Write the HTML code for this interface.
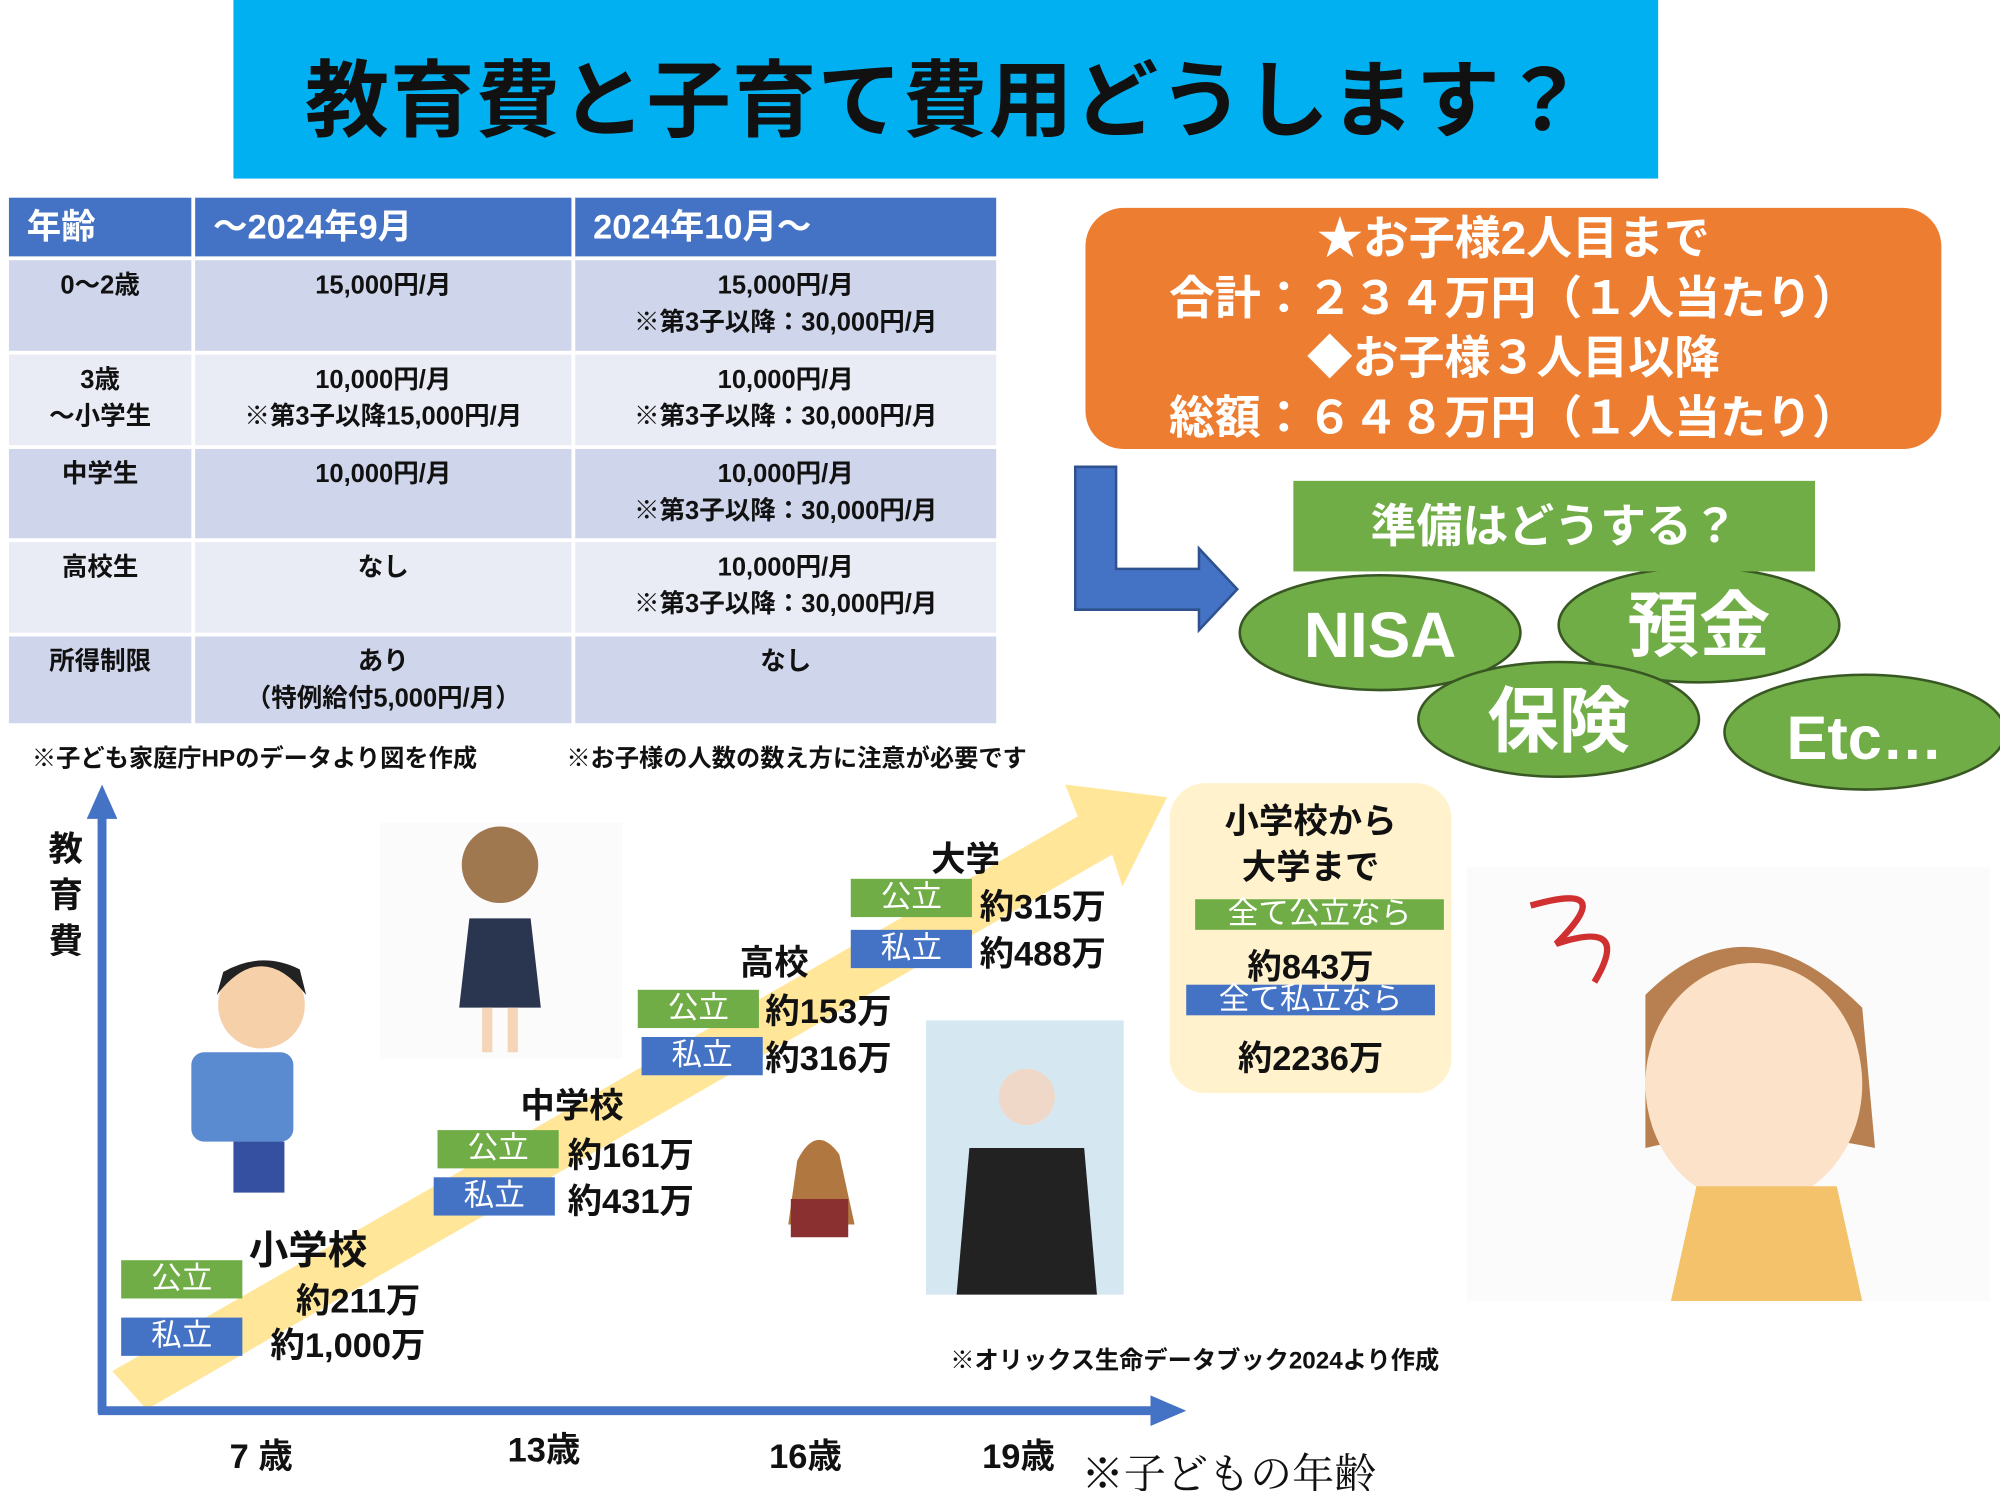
<!DOCTYPE html>
<html><head><meta charset="utf-8"><style>
html,body{margin:0;padding:0;background:#fff;overflow:hidden}
#w{width:1568px;height:1169px;position:relative;transform:scale(1.27551);transform-origin:0 0;font-family:"Liberation Sans","Noto Sans CJK JP",sans-serif;font-weight:bold;color:#111}
.a{position:absolute}
table{border-collapse:collapse;position:absolute;left:4px;top:152px;width:780px;table-layout:fixed}
td{border:3px solid #fff;vertical-align:top;font-size:20px;text-align:center;padding:6px 2px 0;line-height:29px}
tr.h td{background:#4472c4;color:#fff;font-size:27px;text-align:left;padding:6px 14px;height:34px;vertical-align:middle}
tr.d td{background:#cfd5ea}
tr.l td{background:#e9ebf5}
.tag{position:absolute;color:#fff;font-size:24px;text-align:center;line-height:30px;font-weight:normal}
.g{background:#70ad47}.b{background:#4472c4}
.t{position:absolute;font-size:27px;white-space:nowrap}
</style></head><body><div id="w">
<div class="a" style="left:183px;top:0;width:1117px;height:140px;background:#00b0f0"></div>
<div class="a" style="left:183px;top:26px;width:1117px;text-align:center;font-size:66px;letter-spacing:1px">教育費と子育て費用どうします？</div>
<table>
<tr class="h"><td style="width:115px">年齢</td><td style="width:267px">～2024年9月</td><td>2024年10月～</td></tr>
<tr class="d" style="height:74px"><td>0～2歳</td><td>15,000円/月</td><td>15,000円/月<br>※第3子以降：30,000円/月</td></tr>
<tr class="l" style="height:74px"><td>3歳<br>～小学生</td><td>10,000円/月<br>※第3子以降15,000円/月</td><td>10,000円/月<br>※第3子以降：30,000円/月</td></tr>
<tr class="d" style="height:73px"><td>中学生</td><td>10,000円/月</td><td>10,000円/月<br>※第3子以降：30,000円/月</td></tr>
<tr class="l" style="height:74px"><td>高校生</td><td>なし</td><td>10,000円/月<br>※第3子以降：30,000円/月</td></tr>
<tr class="d" style="height:71px"><td>所得制限</td><td>あり<br>（特例給付5,000円/月）</td><td>なし</td></tr>
</table>
<div class="a" style="left:25px;top:580px;font-size:19px">※子ども家庭庁HPのデータより図を作成</div>
<div class="a" style="left:444px;top:580px;font-size:19px">※お子様の人数の数え方に注意が必要です</div>
<div class="a" style="left:851px;top:163px;width:671px;height:189px;background:#ed7d31;border-radius:30px;color:#fff;text-align:center;font-size:36px;line-height:47px;font-weight:bold">★お子様2人目まで<br>合計：２３４万円（１人当たり）<br>◆お子様３人目以降<br>総額：６４８万円（１人当たり）</div>
<svg class="a" style="left:0;top:0" width="1568" height="1169">
<path d="M843,366 L875,366 L875,446 L940,446 L940,430 L970,462 L940,494 L940,478 L843,478 Z" fill="#4472c4" stroke="#2f528f" stroke-width="2"/>
<g fill="#70ad47" stroke="#385723" stroke-width="2">
<ellipse cx="1082" cy="496" rx="110" ry="45"/><ellipse cx="1332" cy="490" rx="110" ry="45"/>
<ellipse cx="1222" cy="564" rx="110" ry="45"/><ellipse cx="1462" cy="574" rx="110" ry="45"/></g>
<g fill="#fff" font-family="Liberation Sans,Noto Sans CJK JP,sans-serif" font-weight="bold" text-anchor="middle">
<text x="1082" y="515" font-size="50">NISA</text><text x="1332" y="510" font-size="56">預金</text>
<text x="1222" y="585" font-size="56">保険</text><text x="1462" y="595" font-size="48">Etc…</text></g>
<path d="M88,1075 L845,640 L835,615 L915,625 L880,695 L872,670 L115,1105 Z" fill="#ffe699"/>
<path d="M80,1108 L80,640" stroke="#4472c4" stroke-width="7"/><path d="M68,642 L80,615 L92,642 Z" fill="#4472c4"/>
<path d="M77,1106 L905,1106" stroke="#4472c4" stroke-width="7"/><path d="M902,1094 L930,1106 L902,1118 Z" fill="#4472c4"/>
<rect x="298" y="645" width="190" height="185" fill="#fbfbfb"/>
<circle cx="392" cy="678" r="30" fill="#a07850"/><path d="M368,720 L416,720 L424,790 L360,790 Z" fill="#2a3550"/><rect x="378" y="790" width="8" height="35" fill="#f5d5b8"/><rect x="398" y="790" width="8" height="35" fill="#f5d5b8"/>
<circle cx="205" cy="788" r="34" fill="#f5d0a8"/><path d="M170,780 Q205,735 240,780 L235,760 Q205,745 175,762Z" fill="#222"/>
<rect x="150" y="825" width="80" height="70" rx="10" fill="#5a8ad0"/><rect x="183" y="895" width="40" height="40" fill="#3550a0"/>
<rect x="726" y="800" width="155" height="215" fill="#d5e8f2"/><path d="M760,900 L850,900 L860,1015 L750,1015 Z" fill="#222"/><circle cx="805" cy="860" r="22" fill="#f0d8c8"/>
<path d="M625,910 Q640,880 658,905 L670,960 L618,960 Z" fill="#b07840"/><rect x="620" y="940" width="45" height="30" fill="#8a3030"/>
<rect x="1150" y="680" width="410" height="340" fill="#fbfbfb"/>
<path d="M1290,780 Q1370,700 1460,790 L1470,900 Q1375,880 1290,900 Z" fill="#b88050"/>
<ellipse cx="1375" cy="850" rx="85" ry="95" fill="#fbe2c8"/><path d="M1310,1020 L1330,930 L1440,930 L1460,1020 Z" fill="#f3c26a"/>
<path d="M1200,710 Q1270,690 1220,740 Q1280,720 1250,770" fill="none" stroke="#d03030" stroke-width="5"/>
</svg>
<div class="a" style="left:1014px;top:377px;width:409px;height:71px;background:#70ad47;color:#fff;font-size:36px;line-height:71px;text-align:center;font-weight:bold">準備はどうする？</div>
<div class="a" style="left:38px;top:648px;font-size:27px;line-height:36px;width:30px">教<br>育<br>費</div>
<div class="tag g" style="left:95px;top:988px;width:95px">公立</div><div class="tag b" style="left:95px;top:1033px;width:95px">私立</div>
<div class="t" style="left:195px;top:955px;font-size:31px">小学校</div><div class="t" style="left:232px;top:998px">約211万</div><div class="t" style="left:212px;top:1033px">約1,000万</div>
<div class="tag g" style="left:343px;top:886px;width:95px">公立</div><div class="tag b" style="left:340px;top:923px;width:95px">私立</div>
<div class="t" style="left:408px;top:845px">中学校</div><div class="t" style="left:445px;top:884px">約161万</div><div class="t" style="left:445px;top:920px">約431万</div>
<div class="tag g" style="left:500px;top:776px;width:95px">公立</div><div class="tag b" style="left:503px;top:813px;width:95px">私立</div>
<div class="t" style="left:580px;top:733px">高校</div><div class="t" style="left:600px;top:771px">約153万</div><div class="t" style="left:600px;top:808px">約316万</div>
<div class="tag g" style="left:667px;top:689px;width:95px">公立</div><div class="tag b" style="left:667px;top:729px;width:95px">私立</div>
<div class="t" style="left:730px;top:652px">大学</div><div class="t" style="left:768px;top:689px">約315万</div><div class="t" style="left:768px;top:726px">約488万</div>
<div class="a" style="left:917px;top:614px;width:221px;height:243px;background:#fff2cc;border-radius:28px"></div>
<div class="t" style="left:917px;top:626px;width:221px;text-align:center;line-height:36px">小学校から<br>大学まで</div>
<div class="tag g" style="left:937px;top:705px;width:195px;height:24px;line-height:24px">全て公立なら</div>
<div class="t" style="left:917px;top:736px;width:221px;text-align:center">約843万</div>
<div class="tag b" style="left:930px;top:772px;width:195px;height:24px;line-height:24px">全て私立なら</div>
<div class="t" style="left:917px;top:808px;width:221px;text-align:center">約2236万</div>
<div class="a" style="left:745px;top:1052px;font-size:19px">※オリックス生命データブック2024より作成</div>
<div class="t" style="left:180px;top:1120px">7 歳</div><div class="t" style="left:398px;top:1115px">13歳</div>
<div class="t" style="left:603px;top:1120px">16歳</div><div class="t" style="left:770px;top:1120px">19歳</div>
<div class="a" style="left:848px;top:1130px;font-size:33px;font-weight:normal;font-family:'Liberation Serif','Noto Serif CJK SC',serif">※子どもの年齢</div>
</div></body></html>
